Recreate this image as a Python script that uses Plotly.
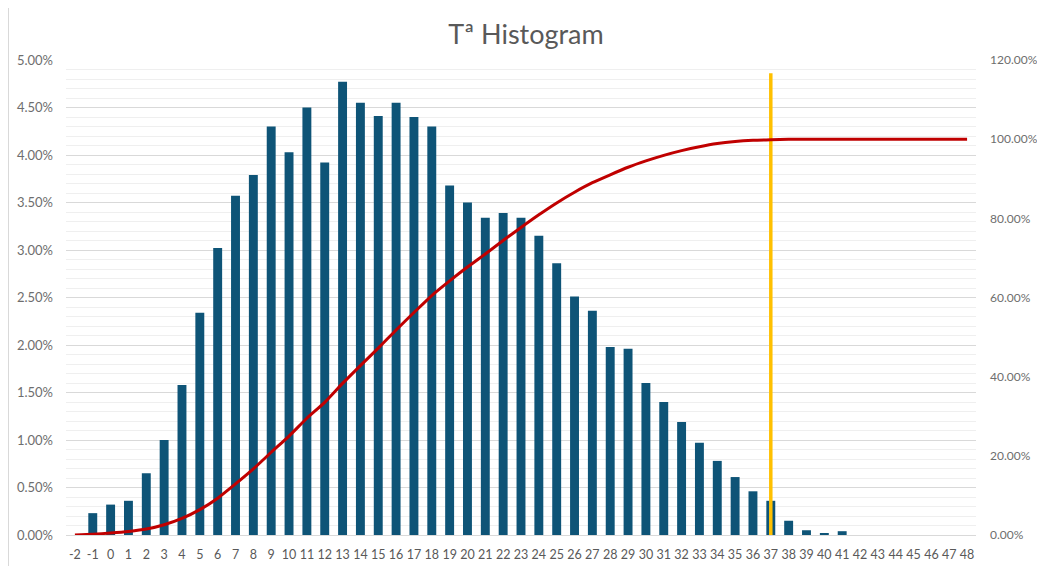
import plotly.graph_objects as go

categories = [str(c) for c in range(-2, 49)]

freq_pct = [0.00, 0.23, 0.32, 0.36, 0.65, 1.00, 1.58, 2.34, 3.02, 3.57,
            3.79, 4.30, 4.03, 4.50, 3.92, 4.77, 4.55, 4.41, 4.55, 4.40,
            4.30, 3.68, 3.50, 3.34, 3.39, 3.34, 3.15, 2.86, 2.51, 2.36,
            1.98, 1.96, 1.60, 1.40, 1.19, 0.97, 0.78, 0.61, 0.46, 0.36,
            0.15, 0.05, 0.02, 0.04, 0.00, 0.00, 0.00, 0.00, 0.00, 0.00, 0.00]

cum_pct = [0.0, 0.2, 0.5, 0.9, 1.5, 2.6, 4.2, 6.4, 9.3, 12.9,
           16.7, 20.9, 25.0, 29.5, 33.5, 38.3, 42.8, 47.2, 51.8, 56.2,
           60.5, 64.2, 67.7, 71.0, 74.4, 77.7, 80.9, 83.9, 86.6, 89.0,
           91.0, 92.9, 94.5, 95.9, 97.1, 98.1, 98.9, 99.4, 99.7, 99.85,
           99.95, 100.0, 100.0, 100.0, 100.0, 100.0, 100.0, 100.0, 100.0, 100.0, 100.0]

marker_cat = ["37", "37"]
marker_y = [0.0, 4.86]

title_text = "Tª Histogram"

FONT = "Lato, 'Open Sans', sans-serif"
GRAY = "#595959"

# page body adds an 8px offset; compensate in figure size and margins
W, H = 1037, 558
ML, MT, MR, MB = 58, 52, 69, 31
plot_w = W - ML - MR
plot_h = H - MT - MB

fig = go.Figure()
fig.add_trace(go.Bar(x=categories, y=freq_pct, marker_color="#0E5477",
                     marker_line_width=0, yaxis="y", showlegend=False))
fig.add_trace(go.Scatter(x=categories, y=cum_pct, mode="lines",
                         line=dict(color="#C00000", width=3, shape="spline", smoothing=0.6),
                         yaxis="y2", showlegend=False))
fig.add_trace(go.Scatter(x=marker_cat, y=marker_y, mode="lines",
                         line=dict(color="#FFC000", width=3.5),
                         yaxis="y", showlegend=False))

fig.update_layout(
    width=W, height=H,
    margin=dict(l=ML, r=MR, t=MT, b=MB, autoexpand=False),
    paper_bgcolor="white", plot_bgcolor="white",
    bargap=0.5,
    title=dict(text=title_text, x=518 / W, xref="container", y=1 - 27 / H,
               yref="container", yanchor="middle", xanchor="center",
               font=dict(family=FONT, size=27, color=GRAY)),
    font=dict(family=FONT, size=12, color=GRAY),
    xaxis=dict(type="category", showgrid=False, showline=True, linecolor="#d9d9d9",
               linewidth=1, ticks="", tickfont=dict(size=12.5, color=GRAY),
               ticklabelstandoff=8, tickangle=0, zeroline=False, automargin=False),
    yaxis=dict(range=[0, 5.0], tickmode="linear", tick0=0, dtick=0.5,
               tickformat=".2f", ticksuffix="%", showgrid=True,
               gridcolor="#d9d9d9", gridwidth=1, zeroline=False, ticks="",
               ticklabelstandoff=12, showline=False, automargin=False,
               minor=dict(dtick=0.1, showgrid=True, gridcolor="#efefef", gridwidth=1),
               tickfont=dict(size=13, color="#6e6e6e")),
    yaxis2=dict(range=[0, 120], overlaying="y", side="right", tickmode="linear",
                tick0=0, dtick=20, tickformat=".2f", ticksuffix="%",
                showgrid=False, zeroline=False, ticks="", ticklabelstandoff=13,
                automargin=False, tickfont=dict(size=12, color="#6e6e6e")),
    shapes=[dict(type="line", xref="paper", yref="paper",
                 x0=(0.5 - ML) / plot_w, x1=(0.5 - ML) / plot_w,
                 y0=-MB / plot_h, y1=(H - MB) / plot_h,
                 line=dict(color="#d9d9d9", width=1))],
)

fig.write_html("out.html")
